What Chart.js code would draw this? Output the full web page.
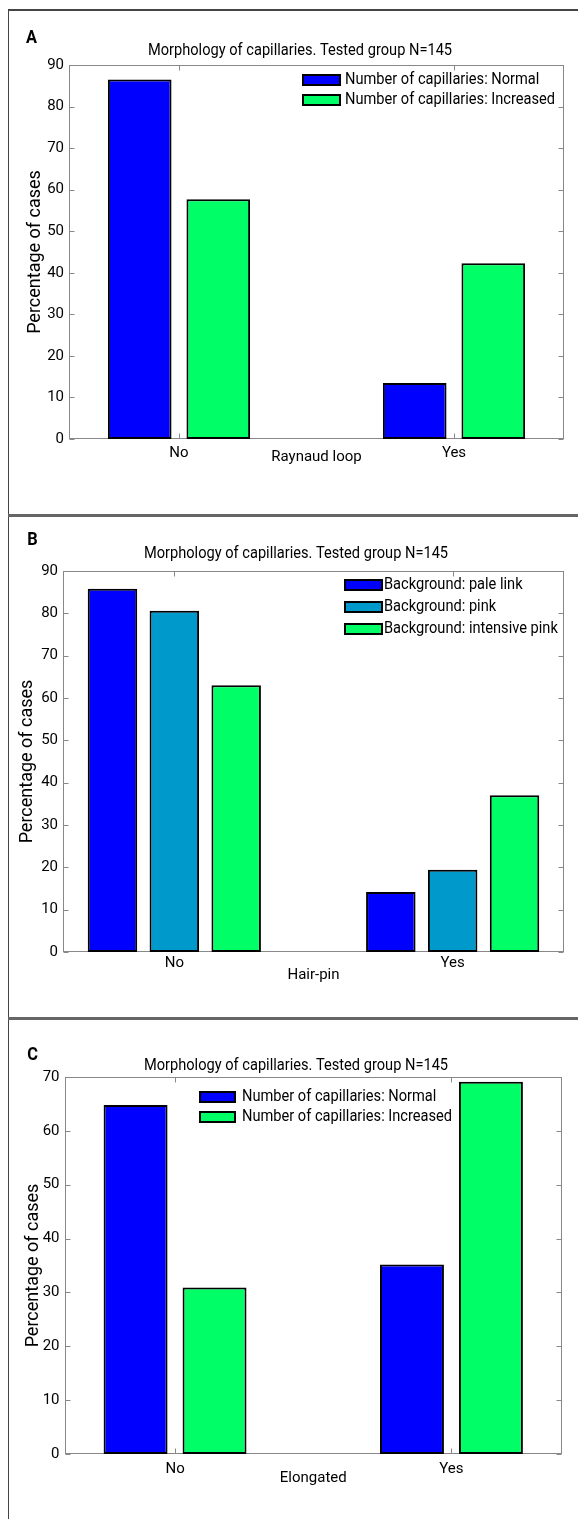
<!DOCTYPE html>
<html>
<head>
<meta charset="utf-8">
<title>Morphology of capillaries</title>
<script src="https://cdn.jsdelivr.net/npm/chart.js@4.4.1/dist/chart.umd.min.js"></script>
<style>
  html, body { margin: 0; padding: 0; background: #fff; }
  body { position: relative; width: 578px; height: 1519px; overflow: hidden; }
  canvas { position: absolute; left: 9px; }
  .rule { position: absolute; background: #444; }
</style>
</head>
<body>
<div class="rule" style="left:8px;top:9px;width:1px;height:1510px"></div>
<div class="rule" style="left:8px;top:9px;width:570px;height:2px"></div>
<div class="rule" style="left:8px;top:514px;width:570px;height:3px;background:#666"></div>
<div class="rule" style="left:8px;top:1017px;width:570px;height:3px;background:#666"></div>
<canvas id="chartA" width="569" height="503" style="top:12px"></canvas>
<canvas id="chartB" width="569" height="501" style="top:517px"></canvas>
<canvas id="chartC" width="569" height="499" style="top:1020px"></canvas>
<script>
// === Data ===
const chartTitle = "Morphology of capillaries. Tested group N=145";
const categories = ["No", "Yes"];
const yStep = 10;

// A: Raynaud loop
const raynaudNormal = [86.5, 13.5];
const raynaudIncreased = [57.7, 42.3];
const yMaxA = 90;

// B: Hair-pin
const hairpinPale = [85.8, 14.2];
const hairpinPink = [80.6, 19.4];
const hairpinIntensive = [63.0, 37.0];
const yMaxB = 90;

// C: Elongated
const elongatedNormal = [64.8, 35.2];
const elongatedIncreased = [30.9, 69.1];
const yMaxC = 70;

const numberLabels = ["Number of capillaries: Normal", "Number of capillaries: Increased"];
const backgroundLabels = ["Background: pale link", "Background: pink", "Background: intensive pink"];

// === Style ===
const FONT = "Roboto, 'Liberation Sans', sans-serif";
const BLUE = "#0000ff";
const TEAL = "#0099cc";
const GREEN = "#00ff66";
const AXIS_GREY = "#888";
const SQUEEZE = 0.86; // the original uses a condensed face

Chart.defaults.font.family = FONT;
Chart.defaults.font.size = 15;
Chart.defaults.color = "#000";

// text drawn a little narrower, like the condensed font of the figure
function condensedText(ctx, text, x, y, align) {
  ctx.save();
  ctx.translate(x, y);
  ctx.scale(SQUEEZE, 1);
  ctx.textAlign = align;
  ctx.fillText(text, 0, 0);
  ctx.restore();
}

// Draws the MATLAB-like box with inward ticks, the panel letter, title and legend
const panelDecor = {
  id: "panelDecor",
  beforeDatasetsDraw(chart, args, o) {
    const { ctx, chartArea: a } = chart;
    const l = Math.round(a.left) + 0.5, r = Math.round(a.right) - 0.5;
    const t = Math.round(a.top) + 0.5, b = Math.round(a.bottom) - 0.5;
    ctx.save();
    ctx.strokeStyle = AXIS_GREY;
    ctx.lineWidth = 1;
    ctx.strokeRect(l, t, r - l, b - t);
    ctx.beginPath();
    chart.scales.y.ticks.forEach((tick) => {
      const py = Math.round(chart.scales.y.getPixelForValue(tick.value)) + 0.5;
      ctx.moveTo(l, py); ctx.lineTo(l + 5, py);
      ctx.moveTo(r, py); ctx.lineTo(r - 5, py);
    });
    chart.scales.x.ticks.forEach((tick) => {
      const px = Math.round(chart.scales.x.getPixelForValue(tick.value)) + 0.5;
      ctx.moveTo(px, b); ctx.lineTo(px, b - 5);
      ctx.moveTo(px, t); ctx.lineTo(px, t + 5);
    });
    ctx.stroke();
    ctx.restore();
  },
  afterDraw(chart, args, o) {
    const { ctx } = chart;
    ctx.save();
    ctx.fillStyle = "#000";
    ctx.textBaseline = "alphabetic";
    ctx.font = "bold 19px " + FONT;
    condensedText(ctx, o.letter, o.letterX, o.letterY, "center");
    ctx.font = "17px " + FONT;
    condensedText(ctx, chartTitle, o.titleX, o.titleY, "center");

    // legend
    const lg = o.legend;
    ctx.textBaseline = "middle";
    chart.data.datasets.forEach((ds, i) => {
      const cy = lg.y + i * lg.row;
      ctx.fillStyle = ds.backgroundColor;
      ctx.fillRect(lg.x, cy - 5, lg.w, 10);
      ctx.strokeStyle = "#000";
      ctx.lineWidth = 2;
      ctx.strokeRect(lg.x, cy - 5, lg.w, 10);
      ctx.fillStyle = "#000";
      condensedText(ctx, ds.label, lg.textX, cy, "left");
    });
    ctx.restore();
  },
};

const Y_TITLE_SIZE = 18;

function makePanel(id, p) {
  const canvas = document.getElementById(id);
  const box = p.box;
  const padLeft = p.yTitleX - (Y_TITLE_SIZE * 1.2) / 2;
  return new Chart(canvas, {
    type: "bar",
    data: {
      datasets: p.series.map((s) => ({
        label: s.label,
        data: s.values.map((v, i) => ({ x: i + 1, y: v })),
        backgroundColor: s.color,
        borderColor: "#000",
        borderWidth: 2,
        borderSkipped: false,
        barPercentage: p.barPct,
        categoryPercentage: p.catPct,
      })),
    },
    options: {
      responsive: false,
      animation: false,
      layout: {
        padding: {
          left: padLeft,
          top: box.top,
          right: canvas.width - box.right,
          bottom: canvas.height - box.bottom - p.xAxisH,
        },
      },
      scales: {
        x: {
          type: "linear",
          min: 0.6,
          max: 2.4,
          offset: false,
          grid: { display: false, drawTicks: false, offset: false },
          border: { display: false },
          afterBuildTicks: (s) => {
            s.ticks = categories.map((c, i) => ({ value: i + 1 }));
          },
          afterFit: (s) => {
            s.height = p.xAxisH;
          },
          ticks: {
            autoSkip: false,
            maxRotation: 0,
            padding: p.xTickPad,
            callback: (v, i) => categories[i],
          },
          title: { display: true, text: p.xTitle, padding: { top: 0, bottom: 0 } },
        },
        y: {
          min: 0,
          max: p.yMax,
          grid: { display: false, drawTicks: false },
          border: { display: false },
          afterFit: (s) => {
            s.width = box.left - padLeft;
          },
          ticks: { stepSize: yStep, padding: 5 },
          title: {
            display: true,
            text: "Percentage of cases",
            font: { size: Y_TITLE_SIZE },
            padding: { top: 0, bottom: 0 },
          },
        },
      },
      plugins: {
        legend: { display: false },
        tooltip: { enabled: false },
        panelDecor: p.decor,
      },
    },
    plugins: [panelDecor],
  });
}

makePanel("chartA", {
  series: [
    { label: numberLabels[0], values: raynaudNormal, color: BLUE },
    { label: numberLabels[1], values: raynaudIncreased, color: GREEN },
  ],
  yMax: yMaxA,
  xTitle: "Raynaud loop",
  box: { left: 60, right: 555, top: 53, bottom: 427 },
  yTitleX: 26,
  xAxisH: 27.6,
  xTickPad: 5,
  barPct: 0.81,
  catPct: 0.5714,
  decor: {
    letter: "A", letterX: 22.5, letterY: 31,
    titleX: 291, titleY: 43,
    legend: { x: 294, y: 68, row: 20, w: 37, textX: 336 },
  },
});

makePanel("chartB", {
  series: [
    { label: backgroundLabels[0], values: hairpinPale, color: BLUE },
    { label: backgroundLabels[1], values: hairpinPink, color: TEAL },
    { label: backgroundLabels[2], values: hairpinIntensive, color: GREEN },
  ],
  yMax: yMaxB,
  xTitle: "Hair-pin",
  box: { left: 54, right: 555, top: 54, bottom: 435 },
  yTitleX: 18.5,
  xAxisH: 32.6,
  xTickPad: 2,
  barPct: 0.8,
  catPct: 0.6667,
  decor: {
    letter: "B", letterX: 23.5, letterY: 28,
    titleX: 287, titleY: 41,
    legend: { x: 336, y: 68, row: 22, w: 37, textX: 375 },
  },
});

makePanel("chartC", {
  series: [
    { label: numberLabels[0], values: elongatedNormal, color: BLUE },
    { label: numberLabels[1], values: elongatedIncreased, color: GREEN },
  ],
  yMax: yMaxC,
  xTitle: "Elongated",
  box: { left: 55.5, right: 553, top: 57, bottom: 434 },
  yTitleX: 24.5,
  xAxisH: 33.6,
  xTickPad: 6,
  barPct: 0.81,
  catPct: 0.5714,
  decor: {
    letter: "C", letterX: 23.5, letterY: 40,
    titleX: 287, titleY: 50,
    legend: { x: 191, y: 77, row: 20, w: 35, textX: 233 },
  },
});
</script>
</body>
</html>
